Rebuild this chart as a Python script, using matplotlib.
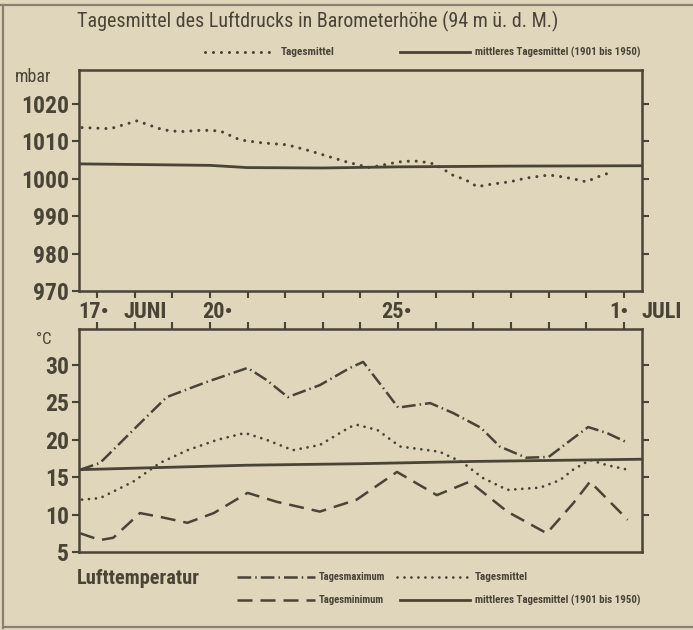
import matplotlib
matplotlib.use("Agg")
import matplotlib.pyplot as plt
from matplotlib import font_manager
from matplotlib.transforms import blended_transform_factory

# Tage ab 17. Juni (0 = 17.6., 14 = 1.7.)
druck_tage = [-0.4, 0.35, 1.06, 1.75, 2.2, 2.8, 3.27, 3.8, 4.4, 5.05, 5.65, 6.27, 6.67,
              7.25, 8.0, 8.4, 8.85, 9.1, 9.45, 9.8, 10.1, 10.5, 10.97, 11.4, 12.0,
              12.2, 12.65, 13.0, 13.3, 13.7]
druck_mittel = [1013.7, 1013.4, 1015.5, 1013.1, 1012.6, 1013.0, 1012.8, 1010.4, 1009.6,
                1009.1, 1007.5, 1005.6, 1004.4, 1003.0, 1004.5, 1004.8, 1004.3, 1003.2,
                1001.0, 999.7, 997.9, 998.6, 999.2, 1000.2, 1001.0, 1000.8, 1000.0,
                999.2, 1000.5, 1001.9]
druck_norm_tage = [-0.5, 3.0, 4.0, 6.0, 8.0, 11.0, 14.5]
druck_norm = [1004.0, 1003.6, 1003.0, 1002.9, 1003.2, 1003.4, 1003.5]

tmax_tage = [-0.45, 0.08, 0.96, 1.85, 2.9, 4.0, 4.5, 5.07, 5.92, 6.72, 7.07, 7.5, 8.0,
             8.85, 9.45, 10.2, 10.7, 11.4, 12.0, 12.6, 13.05, 13.55, 14.1]
tmax = [16.0, 16.9, 21.3, 25.7, 27.7, 29.6, 28.0, 25.7, 27.3, 29.6, 30.4, 27.6, 24.3,
        24.9, 23.6, 21.6, 19.1, 17.6, 17.7, 20.0, 21.7, 20.9, 19.6]
tmit_tage = [-0.4, 0.08, 0.96, 1.67, 2.4, 3.2, 3.93, 4.5, 5.2, 5.92, 6.72, 6.9, 7.45,
             8.05, 9.1, 9.7, 10.25, 10.9, 11.77, 12.3, 12.65, 13.1, 13.55, 14.1]
tmit = [12.0, 12.2, 14.4, 16.9, 18.6, 20.0, 20.9, 20.0, 18.6, 19.3, 21.7, 22.0, 21.3,
        19.1, 18.4, 17.0, 14.9, 13.3, 13.6, 14.6, 16.0, 17.3, 16.6, 16.0]
tmin_tage = [-0.45, 0.08, 0.43, 1.14, 1.67, 2.4, 3.1, 4.0, 4.78, 5.92, 6.72, 6.9, 7.97,
             9.03, 9.9, 10.9, 11.95, 12.65, 13.1, 14.1]
tmin = [7.5, 6.6, 6.9, 10.2, 9.7, 8.9, 10.2, 12.9, 11.7, 10.4, 11.7, 12.0, 15.7, 12.6,
        14.4, 10.4, 7.5, 11.5, 14.4, 9.3]
tnorm_tage = [-0.5, 4.0, 7.0, 10.0, 14.5]
tnorm = [16.0, 16.6, 16.8, 17.1, 17.4]

druck_ticks = [970, 980, 990, 1000, 1010, 1020]
temp_ticks = [5, 10, 15, 20, 25, 30]
datum_text = ["17•", "JUNI", "20•", "25•", "1•", "JULI"]
datum_pos = [-0.1, 1.28, 3.2, 7.97, 13.87, 15.0]

bg = "#e0d6bc"
ink = "#4a4437"

names = {f.name for f in font_manager.fontManager.ttflist}
schmal = next((n for n in ["Liberation Sans Narrow", "DejaVu Sans Condensed",
                           "Roboto Condensed", "Open Sans Condensed"] if n in names),
              "DejaVu Sans")
plt.rcParams["font.family"] = [schmal, "DejaVu Sans"]

fig = plt.figure(figsize=(6.93, 6.30), dpi=100, facecolor=bg)
W, H = 693, 630


def fit(t, width):
    # Schriftgroesse so setzen, dass der Text die gewuenschte Breite hat
    r = fig.canvas.get_renderer()
    w = t.get_window_extent(r).width
    t.set_fontsize(t.get_fontsize() * width / w)


ax1 = fig.add_axes([79 / W, 1 - 291 / H, 563 / W, 221 / H])
ax2 = fig.add_axes([79 / W, 1 - 552 / H, 563 / W, 223 / H])
ov = fig.add_axes([0, 0, 1, 1])
ov.set_xlim(0, W)
ov.set_ylim(H, 0)
ov.axis("off")
ov.patch.set_visible(False)

dot_p = dict(color=ink, lw=2.2, linestyle=(0, (0.01, 2.6)), dash_capstyle="round")
dot_t = dict(color=ink, lw=2.0, linestyle=(0, (0.01, 2.5)), dash_capstyle="round")
dashdot = dict(color=ink, lw=1.8, linestyle=(0, (5.5, 1.6, 0.6, 1.6)))
dashed = dict(color=ink, lw=1.8, linestyle=(0, (6, 3.2)))
solid = dict(color=ink, lw=2.0)

for ax in (ax1, ax2):
    ax.set_facecolor(bg)
    for s in ax.spines.values():
        s.set_color(ink)
        s.set_linewidth(1.8)
    ax.set_xlim(-0.48, 14.48)
    ax.set_xticks(range(15))
    ax.tick_params(axis="both", direction="out", length=5, width=1.5, color=ink,
                   labelcolor=ink, pad=2)
    ax.tick_params(axis="y", left=True, right=True, labelright=False)

ax1.plot(druck_tage, druck_mittel, **dot_p)
ax1.plot(druck_norm_tage, druck_norm, **solid)
ax1.set_ylim(970, 1029.1)
ax1.set_yticks(druck_ticks)
ax1.tick_params(axis="x", bottom=True, top=False, labelbottom=False)

ax2.plot(tmax_tage, tmax, **dashdot)
ax2.plot(tmit_tage, tmit, **dot_t)
ax2.plot(tmin_tage, tmin, **dashed)
ax2.plot(tnorm_tage, tnorm, **solid)
ax2.set_ylim(5, 34.8)
ax2.set_yticks(temp_ticks)
ax2.tick_params(axis="x", bottom=False, top=True, labelbottom=False, labeltop=False)

for ax in (ax1, ax2):
    ax.yaxis.get_major_ticks()[0].tick2line.set_visible(False)
    for lab in ax.get_yticklabels():
        lab.set_fontweight("bold")
        lab.set_fontsize(17)

tr = blended_transform_factory(ax1.transData, ax1.transAxes)
for txt, x in zip(datum_text, datum_pos):
    ax1.text(x, -0.095, txt, transform=tr, ha="center", va="center", color=ink,
             fontsize=16, fontweight="bold", clip_on=False)

ov.text(15, 77, "mbar", color=ink, fontsize=13, va="center", ha="left")
ov.text(36, 340, "°C", color=ink, fontsize=12, va="center", ha="left")

t = ov.text(77, 21, "Tagesmittel des Luftdrucks in Barometerhöhe (94 m ü. d. M.)",
            color=ink, fontsize=12, va="center", ha="left")
fit(t, 480)

# Legende oben
ov.plot([205, 275], [52, 52], **dot_p)
fit(ov.text(281, 52, "Tagesmittel", color=ink, fontsize=6, fontweight="bold",
            va="center"), 54)
ov.plot([400, 470], [52, 52], **solid)
fit(ov.text(475, 52, "mittleres Tagesmittel (1901 bis 1950)", color=ink, fontsize=6,
            fontweight="bold", va="center"), 166)

# Legende unten
fit(ov.text(77, 579, "Lufttemperatur", color=ink, fontsize=11, fontweight="bold",
            va="center"), 123)
ov.plot([237, 315], [577, 577], **dashdot)
fit(ov.text(319, 577, "Tagesmaximum", color=ink, fontsize=6, fontweight="bold",
            va="center"), 66)
ov.plot([397, 470], [577, 577], **dot_t)
fit(ov.text(475, 577, "Tagesmittel", color=ink, fontsize=6, fontweight="bold",
            va="center"), 53)
ov.plot([237, 315], [600, 600], **dashed)
fit(ov.text(319, 600, "Tagesminimum", color=ink, fontsize=6, fontweight="bold",
            va="center"), 66)
ov.plot([400, 470], [600, 600], **solid)
fit(ov.text(475, 600, "mittleres Tagesmittel (1901 bis 1950)", color=ink, fontsize=6,
            fontweight="bold", va="center"), 166)

# Rahmen
frame = dict(color="#8a8270", lw=1.6)
ov.plot([0, W], [5, 5], **frame)
ov.plot([3, 3], [5, 628], **frame)
ov.plot([3, W], [627, 627], **frame)

fig.savefig("out.png", dpi=100, facecolor=bg)
